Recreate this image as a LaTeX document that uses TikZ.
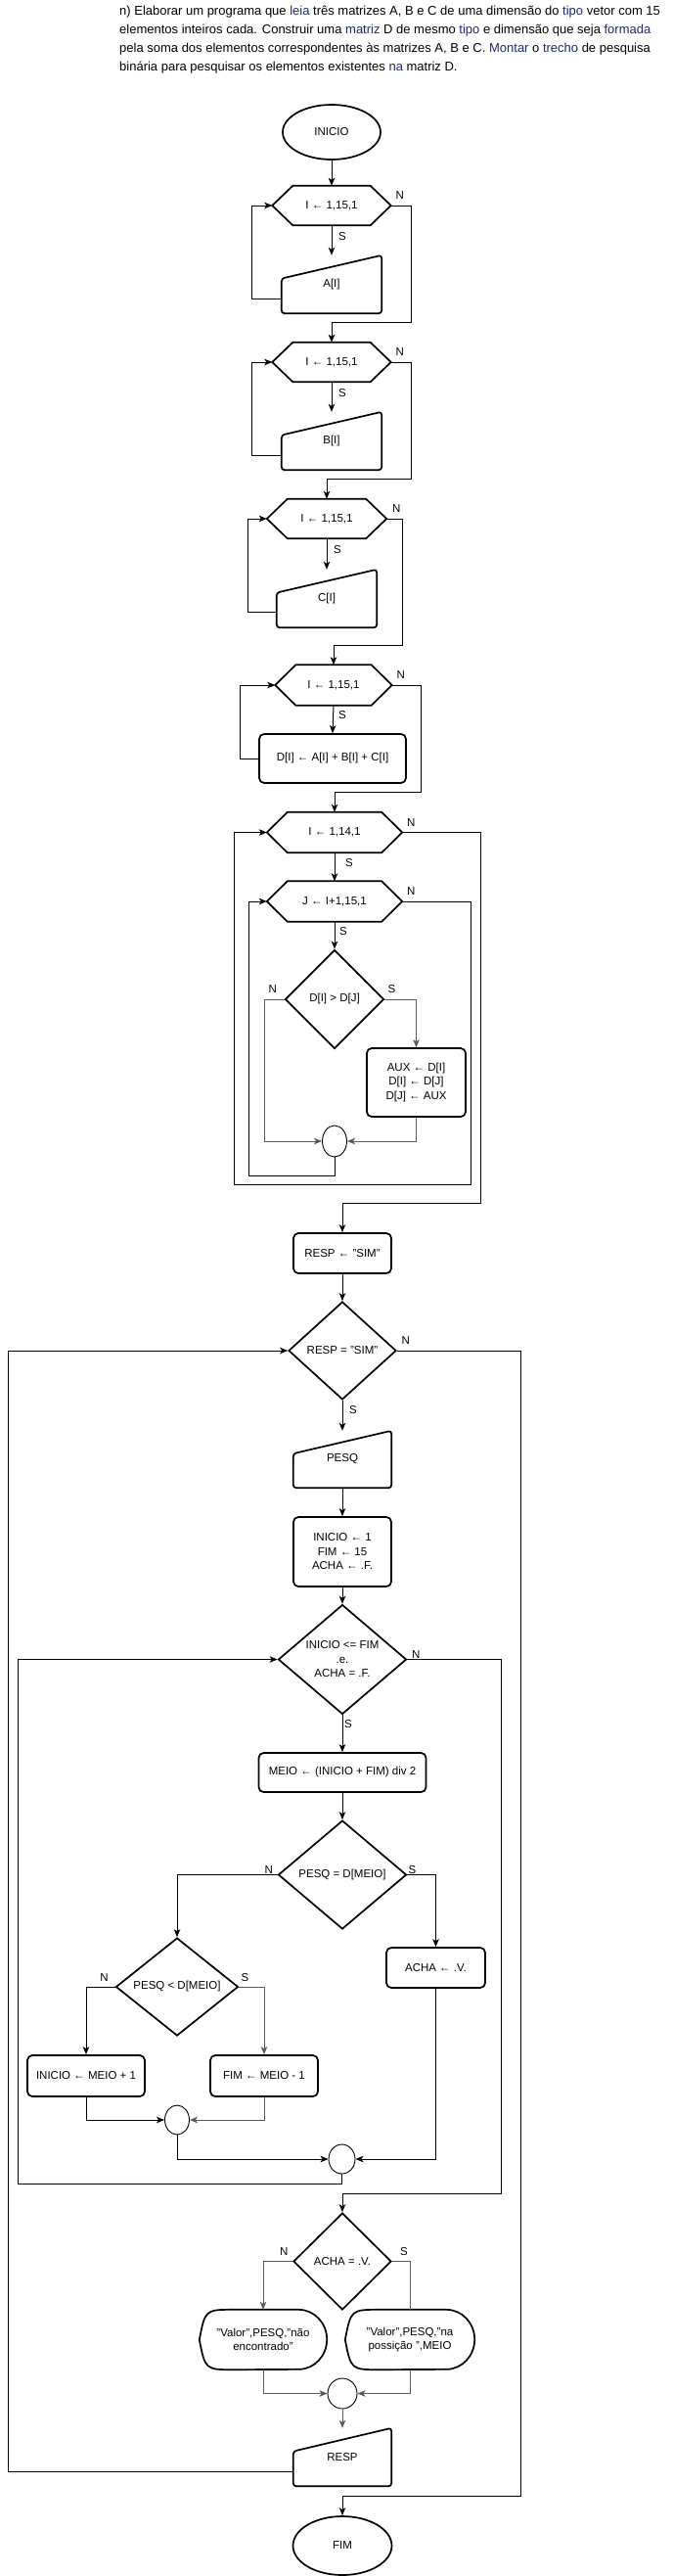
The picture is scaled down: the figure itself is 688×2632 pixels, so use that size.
\documentclass[tikz,border=0pt]{standalone}
\usepackage{fontspec}
\setmainfont{Liberation Sans}
\usepackage{tikz}
\usetikzlibrary{shapes.geometric,arrows.meta,calc}

\definecolor{linkblue}{HTML}{1F2A6B}
\definecolor{wire}{HTML}{5A5A5A}

\tikzset{
  outline/.style={line width=1.7, draw=black},
  term/.style={ellipse, draw, line width=1.7, minimum width=100, minimum height=56, inner sep=0},
  hexbox/.style={minimum width=121, minimum height=40, inner sep=0},
  manbox/.style={minimum width=102, minimum height=59, inner sep=0},
  procbox/.style={draw, rounded corners=5, line width=1.7, align=center, inner sep=0},
  decision/.style={diamond, draw, line width=1.7, inner sep=0, align=center},
  dispbox/.style={minimum height=61, inner sep=0, align=center},
  joint/.style={ellipse, draw, line width=0.9, inner sep=0},
  lbl/.style={inner sep=0},
  wireline/.style={line width=1},
  arrow/.style={wireline, -{Stealth[length=8pt, width=6.5pt, inset=2pt]}},
  garrow/.style={arrow, draw=wire},
  title/.style={anchor=north west, align=left, inner sep=0, font=\fontsize{13}{19}\selectfont}
}

\newcommand{\hexout}[1]{\draw[outline] (#1.west) -- ([xshift=21]#1.north west) -- ([xshift=-21]#1.north east) -- (#1.east) -- ([xshift=-21]#1.south east) -- ([xshift=21]#1.south west) -- cycle;}
\newcommand{\manout}[1]{\draw[outline, rounded corners=3] (#1.south west) -- ($(#1.north west)!0.4!(#1.south west)$) -- (#1.north east) -- (#1.south east) -- cycle;}
\newcommand{\dispout}[1]{\draw[outline] (#1.west) .. controls ([xshift=6]#1.north west) .. ([xshift=36]#1.north west) -- ([xshift=-29]#1.north east) arc[start angle=90, end angle=-90, x radius=29pt, y radius=30.5pt] -- ([xshift=36]#1.south west) .. controls ([xshift=6]#1.south west) .. (#1.west);}

\begin{document}
\begin{tikzpicture}[x=1pt, y=-1pt, every node/.style={font=\fontsize{11.5}{14.5}\selectfont}]
\path[fill=white] (0,0) rectangle (688,2632);
\useasboundingbox (0,0) rectangle (688,2632);

\node[title] (enunc) at (122,6) {n) Elaborar um programa que \textcolor{linkblue}{leia} três matrizes A, B e C de uma dimensão do \textcolor{linkblue}{tipo} vetor com 15\\
elementos inteiros cada. Construir uma \textcolor{linkblue}{matriz} D de mesmo \textcolor{linkblue}{tipo} e dimensão que seja \textcolor{linkblue}{formada}\\
pela soma dos elementos correspondentes às matrizes A, B e C. \textcolor{linkblue}{Montar} o \textcolor{linkblue}{trecho} de pesquisa\\
binária para pesquisar os elementos existentes \textcolor{linkblue}{na} matriz D.};

\node[term] (inicio) at (339,135) {INICIO};
\node[hexbox] (forA) at (339,210) {I ← 1,15,1};
\node[manbox] (readA) at (339,290.5) {A[I]};
\node[hexbox] (forB) at (339,370) {I ← 1,15,1};
\node[manbox] (readB) at (339,450.5) {B[I]};
\node[hexbox, minimum width=122] (forC) at (334,530) {I ← 1,15,1};
\node[manbox] (readC) at (334,611.5) {C[I]};
\node[hexbox, minimum width=119, minimum height=41] (forD) at (341,700) {I ← 1,15,1};
\node[procbox, minimum width=150, minimum height=50] (sumD) at (340,775) {D[I] ← A[I] + B[I] + C[I]};
\node[hexbox, minimum width=138, minimum height=41] (forE) at (342,850.5) {I ← 1,14,1};
\node[hexbox, minimum width=138, minimum height=41] (forF) at (342,921) {J ← I+1,15,1};
\node[decision, minimum width=101, minimum height=101] (cmp) at (342,1021) {D[I] > D[J]};
\node[procbox, minimum width=101, minimum height=70] (swap) at (425.5,1106) {AUX ← D[I]\\D[I] ← D[J]\\D[J] ← AUX};
\node[joint, minimum width=25, minimum height=32] (joinA) at (342,1166) {};
\node[procbox, minimum width=100, minimum height=41] (setResp) at (350,1280.5) {RESP ← "SIM"};
\node[decision, minimum width=110, minimum height=100] (whileResp) at (350,1380) {RESP = "SIM"};
\node[manbox, minimum width=100, minimum height=58] (readPesq) at (350,1491) {PESQ};
\node[procbox, minimum width=100, minimum height=71] (init) at (350,1585.5) {INICIO ← 1\\FIM ← 15\\ACHA ← .F.};
\node[decision, minimum width=131, minimum height=111] (whileBin) at (350,1695.5) {INICIO <= FIM\\.e.\\ACHA = .F.};
\node[procbox, minimum width=171, minimum height=40] (meio) at (350,1811) {MEIO ← (INICIO + FIM) div 2};
\node[decision, minimum width=131, minimum height=111] (eqTest) at (350,1915.5) {PESQ = D[MEIO]};
\node[decision, minimum width=125, minimum height=100] (ltTest) at (181,2030) {PESQ < D[MEIO]};
\node[procbox, minimum width=120, minimum height=42] (incIni) at (88,2121) {INICIO ← MEIO + 1};
\node[procbox, minimum width=110, minimum height=42] (decFim) at (270,2121) {FIM ← MEIO - 1};
\node[procbox, minimum width=101, minimum height=41] (found) at (445.5,2010.5) {ACHA ← .V.};
\node[joint, minimum width=25, minimum height=30] (joinB) at (181,2166) {};
\node[joint, minimum width=27, minimum height=30] (joinC) at (349.5,2206) {};
\node[decision, minimum width=100, minimum height=99] (achaTest) at (350,2310.5) {ACHA = .V.};
\node[dispbox, minimum width=130] (outNo) at (269,2390.5) {"Valor",PESQ,"não\\encontrado"};
\node[dispbox, minimum width=132] (outYes) at (419,2390.5) {"Valor",PESQ,"na\\possição ",MEIO};
\node[joint, minimum width=30, minimum height=31] (joinD) at (350,2445.5) {};
\node[manbox, minimum width=100] (outResp) at (350,2510.5) {RESP};
\node[term, minimum width=101, minimum height=60] (fim) at (350,2601) {FIM};

\hexout{forA} \hexout{forB} \hexout{forC} \hexout{forD} \hexout{forE} \hexout{forF}
\manout{readA} \manout{readB} \manout{readC} \manout{readPesq} \manout{outResp}
\dispout{outNo} \dispout{outYes}

\coordinate (outerL) at (239,1210);
\coordinate (innerL) at (254,1201);
\coordinate (rightR) at (532,2550);
\coordinate (leftR) at (8,2525);
\coordinate (rightB) at (512,2241);
\coordinate (leftB) at (18,2231);

\draw[arrow] (inicio.south) -- (forA.north);
\draw[arrow] (forA.south) -- (readA.north);
\draw[arrow] ([yshift=-14.5]readA.west) -- ++(-30,0) |- (forA.west);
\draw[arrow] (forA.east) -- ++(20.5,0) |- ([yshift=20]forB.north) -- (forB.north);
\draw[arrow] (forB.south) -- (readB.north);
\draw[arrow] ([yshift=-14.5]readB.west) -- ++(-30,0) |- (forB.west);
\draw[arrow] (forB.east) -- ++(20.5,0) |- ([yshift=20]forC.north) -- (forC.north);
\draw[arrow] (forC.south) -- (readC.north);
\draw[arrow] ([yshift=-13.5]readC.west) -- ++(-29,0) |- (forC.west);
\draw[arrow] (forC.east) -- ++(16,0) |- ([yshift=20]forD.north) -- (forD.north);
\draw[arrow] (forD.south) -- (sumD.north);
\draw[arrow] (sumD.west) -- ++(-19,0) |- (forD.west);
\draw[arrow] (forD.east) -- ++(30,0) |- ([yshift=20]forE.north) -- (forE.north);
\draw[arrow] (forE.south) -- (forF.north);
\draw[arrow] (forF.south) -- (cmp.north);
\draw[garrow] (cmp.west) -- ++(-20,0) |- (joinA.west);
\draw[garrow] (cmp.east) -| (swap.north);
\draw[garrow] (swap.south) |- (joinA.east);
\draw[arrow] (joinA.south) |- (innerL) |- (forF.west);
\draw[arrow] (forF.east) -- ++(70,0) |- (outerL) |- (forE.west);
\draw[arrow] (forE.east) -- ++(80,0) |- ([yshift=30]setResp.north) -- (setResp.north);
\draw[arrow] (setResp.south) -- (whileResp.north);
\draw[arrow] (whileResp.south) -- (readPesq.north);
\draw[arrow] (whileResp.east) -| (rightR) -| (fim.north);
\draw[arrow] ([yshift=-14.5]outResp.west) -- (leftR) |- (whileResp.west);
\draw[arrow] (readPesq.south) -- (init.north);
\draw[arrow] (init.south) -- (whileBin.north);
\draw[arrow] (whileBin.south) -- (meio.north);
\draw[arrow] (whileBin.east) -| (rightB) -| (achaTest.north);
\draw[arrow] (meio.south) -- (eqTest.north);
\draw[arrow] (eqTest.west) -| (ltTest.north);
\draw[arrow] (eqTest.east) -| (found.north);
\draw[arrow] (ltTest.west) -| (incIni.north);
\draw[garrow] (ltTest.east) -| (decFim.north);
\draw[arrow] (incIni.south) |- (joinB.west);
\draw[garrow] (decFim.south) |- (joinB.east);
\draw[arrow] (joinB.south) |- (joinC.west);
\draw[arrow] (found.south) |- (joinC.east);
\draw[arrow] (joinC.south) |- (leftB) |- (whileBin.west);
\draw[garrow] (achaTest.west) -| (outNo.north);
\draw[wireline, draw=wire] (achaTest.east) -| (outYes.north);
\draw[garrow] (outNo.south) |- (joinD.west);
\draw[garrow] (outYes.south) |- (joinD.east);
\draw[garrow] (joinD.south) -- (outResp.north);

\node[lbl] (nA) at ([shift={(9,-10)}]forA.east) {N};
\node[lbl] (sA) at ([shift={(11,11)}]forA.south) {S};
\node[lbl] (nB) at ([shift={(9,-10)}]forB.east) {N};
\node[lbl] (sB) at ([shift={(11,11)}]forB.south) {S};
\node[lbl] (nC) at ([shift={(10,-10)}]forC.east) {N};
\node[lbl] (sC) at ([shift={(11,11)}]forC.south) {S};
\node[lbl] (nD) at ([shift={(9,-10)}]forD.east) {N};
\node[lbl] (sD) at ([shift={(9,10)}]forD.south) {S};
\node[lbl] (nE) at ([shift={(9,-10)}]forE.east) {N};
\node[lbl] (sE) at ([shift={(15,10)}]forE.south) {S};
\node[lbl] (nF) at ([shift={(9,-10)}]forF.east) {N};
\node[lbl] (sF) at ([shift={(9,10)}]forF.south) {S};
\node[lbl] (nCmp) at ([shift={(-12,-10)}]cmp.west) {N};
\node[lbl] (sCmp) at ([shift={(7,-10)}]cmp.east) {S};
\node[lbl] (nResp) at ([shift={(9,-10)}]whileResp.east) {N};
\node[lbl] (sResp) at ([shift={(11,10)}]whileResp.south) {S};
\node[lbl] (nBin) at ([shift={(9,-5)}]whileBin.east) {N};
\node[lbl] (sBin) at ([shift={(6,9)}]whileBin.south) {S};
\node[lbl] (nEq) at ([shift={(-9,-5)}]eqTest.west) {N};
\node[lbl] (sEq) at ([shift={(5,-5)}]eqTest.east) {S};
\node[lbl] (nLt) at ([shift={(-11,-9)}]ltTest.west) {N};
\node[lbl] (sLt) at ([shift={(6,-9)}]ltTest.east) {S};
\node[lbl] (nAcha) at ([shift={(-9,-10)}]achaTest.west) {N};
\node[lbl] (sAcha) at ([shift={(12,-10)}]achaTest.east) {S};
\end{tikzpicture}
\end{document}
